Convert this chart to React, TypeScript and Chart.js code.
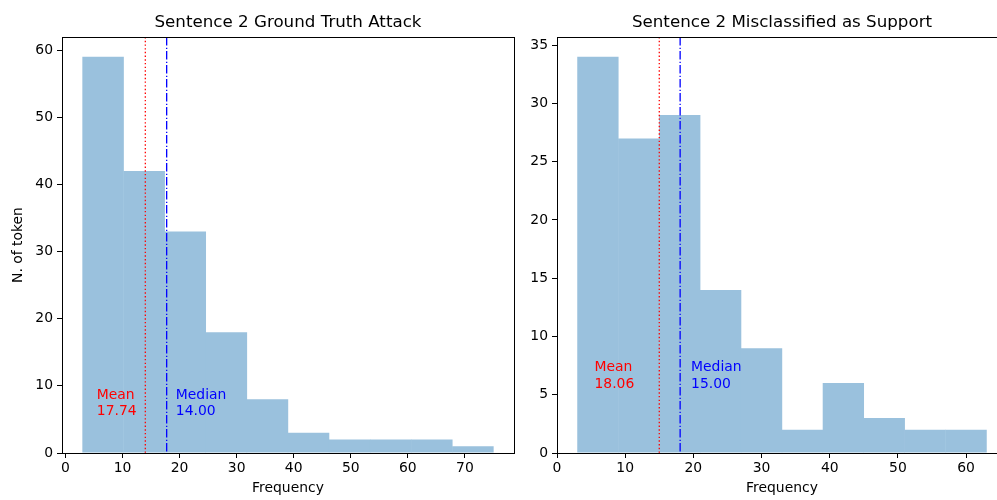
import React, { useEffect, useRef } from 'react';
import { Chart, registerables } from 'chart.js';

Chart.register(...registerables);

// ---------- data ----------
const leftTitle = 'Sentence 2 Ground Truth Attack';
const leftBinEdges = [3, 10.2, 17.4, 24.6, 31.8, 39, 46.2, 53.4, 60.6, 67.8, 75];
const leftCounts = [59, 42, 33, 18, 8, 3, 2, 2, 2, 1];
const leftRedLine = 14;
const leftBlueLine = 17.74;
const leftMeanText = ['Mean', '17.74'];
const leftMedianText = ['Median', '14.00'];
const leftXTicks = [0, 10, 20, 30, 40, 50, 60, 70];
const leftYTicks = [0, 10, 20, 30, 40, 50, 60];

const rightTitle = 'Sentence 2 Misclassified as Support';
const rightBinEdges = [3, 9, 15, 21, 27, 33, 39, 45, 51, 57, 63];
const rightCounts = [34, 27, 29, 14, 9, 2, 6, 3, 2, 2];
const rightRedLine = 15;
const rightBlueLine = 18.06;
const rightMeanText = ['Mean', '18.06'];
const rightMedianText = ['Median', '15.00'];
const rightXTicks = [0, 10, 20, 30, 40, 50, 60];
const rightYTicks = [0, 5, 10, 15, 20, 25, 30, 35];

const xLabel = 'Frequency';
const yLabel = 'N. of token';

// ---------- styling ----------
const FONT = "'DejaVu Sans', sans-serif";
const BAR_COLOR = 'rgb(154,193,221)';
const RED = 'rgb(255,0,0)';
const BLUE = 'rgb(0,0,255)';
const TICK_SIZE = 13.9;

const overlayPlugin = {
  id: 'overlay',
  afterDatasetsDraw(chart: any, _args: any, opts: any) {
    const { ctx, chartArea: a, scales } = chart;
    const x = scales.x;
    const y = scales.y;
    ctx.save();
    ctx.beginPath();
    ctx.rect(a.left, a.top, a.right - a.left, a.bottom - a.top);
    ctx.clip();
    const vline = (val: number, color: string, dash: number[], width: number) => {
      const px = x.getPixelForValue(val);
      ctx.beginPath();
      ctx.setLineDash(dash);
      ctx.strokeStyle = color;
      ctx.lineWidth = width;
      ctx.moveTo(px, a.top);
      ctx.lineTo(px, a.bottom);
      ctx.stroke();
    };
    vline(opts.red, RED, [1.4, 2.3], 1.3);
    vline(opts.blue, BLUE, [8.5, 2.1, 1.3, 2.1], 1.3);
    ctx.setLineDash([]);
    ctx.restore();

    // texts
    ctx.save();
    ctx.font = `${TICK_SIZE}px ${FONT}`;
    ctx.textAlign = 'left';
    ctx.textBaseline = 'alphabetic';
    const drawText = (lines: string[], xv: number, color: string) => {
      ctx.fillStyle = color;
      const px = x.getPixelForValue(xv);
      const base = y.getPixelForValue(opts.textY);
      const n = lines.length;
      lines.forEach((l, i) => {
        ctx.fillText(l, px, base - (n - 1 - i) * 16.5);
      });
    };
    drawText(opts.meanText, opts.meanTextX, RED);
    drawText(opts.medianText, opts.blue + 1.6, BLUE);
    ctx.restore();

    // spines
    ctx.save();
    ctx.strokeStyle = '#000';
    ctx.lineWidth = 1;
    const l = Math.round(a.left) + 0.5;
    const t = Math.round(a.top) + 0.5;
    const r = Math.round(a.right) + 0.5;
    const b = Math.round(a.bottom) + 0.5;
    ctx.strokeRect(l, t, r - l, b - t);
    ctx.restore();
  },
};

type PanelProps = {
  left: number;
  width: number;
  title: string;
  edges: number[];
  counts: number[];
  red: number;
  blue: number;
  meanText: string[];
  medianText: string[];
  xTicks: number[];
  yTicks: number[];
  xMin: number;
  xMax: number;
  yMax: number;
  yAxisWidth: number;
  padRight: number;
  showYLabel: boolean;
};

function Panel(p: PanelProps) {
  const ref = useRef<HTMLCanvasElement | null>(null);
  useEffect(() => {
    if (!ref.current) return;
    const pts = p.counts.map((c, i) => ({ x: (p.edges[i] + p.edges[i + 1]) / 2, y: c }));
    const tickFont = { family: FONT, size: TICK_SIZE };
    const chart = new Chart(ref.current, {
      type: 'bar',
      data: {
        datasets: [
          {
            data: pts,
            backgroundColor: BAR_COLOR,
            borderWidth: 0,
            barPercentage: 1.01,
            categoryPercentage: 1,
          } as any,
        ],
      },
      options: {
        animation: false,
        responsive: false,
        events: [],
        layout: { padding: { top: 12.5, left: 0, right: p.padRight, bottom: 0 } },
        plugins: {
          legend: { display: false },
          tooltip: { enabled: false },
          title: {
            display: true,
            text: p.title,
            fullSize: false,
            color: '#000',
            font: { family: FONT, size: 16.7, weight: 'normal' },
            padding: { top: 0, bottom: 4.5 },
          },
          overlay: {
            red: p.red,
            blue: p.blue,
            meanText: p.meanText,
            medianText: p.medianText,
            meanTextX: 5.5,
            textY: 5.6,
          },
        } as any,
        scales: {
          x: {
            type: 'linear',
            offset: false,
            min: p.xMin,
            max: p.xMax,
            afterBuildTicks: (s: any) => {
              s.ticks = p.xTicks.map((v) => ({ value: v }));
            },
            afterFit: (s: any) => {
              s.height = 47;
            },
            grid: { display: true, offset: false, drawOnChartArea: false, drawTicks: true, tickLength: 5, tickColor: '#000' },
            border: { display: true, color: '#000', width: 1 },
            ticks: {
              autoSkip: false,
              maxRotation: 0,
              padding: 2,
              color: '#000',
              font: tickFont,
              callback: (v: any) => String(v),
            },
            title: {
              display: true,
              text: xLabel,
              color: '#000',
              font: { family: FONT, size: TICK_SIZE },
              padding: { top: 0, bottom: 3 },
            },
          },
          y: {
            type: 'linear',
            min: 0,
            max: p.yMax,
            afterBuildTicks: (s: any) => {
              s.ticks = p.yTicks.map((v) => ({ value: v }));
            },
            afterFit: (s: any) => {
              s.width = p.yAxisWidth;
            },
            grid: { display: true, drawOnChartArea: false, drawTicks: true, tickLength: 5, tickColor: '#000' },
            border: { display: true, color: '#000', width: 1 },
            ticks: {
              autoSkip: false,
              padding: 4,
              color: '#000',
              font: tickFont,
              callback: (v: any) => String(v),
            },
            title: {
              display: p.showYLabel,
              text: yLabel,
              color: '#000',
              font: { family: FONT, size: TICK_SIZE },
              padding: { top: 10, bottom: 0 },
            },
          },
        },
      } as any,
      plugins: [overlayPlugin as any],
    });
    return () => chart.destroy();
  }, []);
  return (
    <canvas
      ref={ref}
      width={p.width}
      height={500}
      style={{ position: 'absolute', left: p.left, top: 0, width: p.width, height: 500, display: 'block' }}
    />
  );
}

export default function App() {
  return (
    <div
      style={{
        position: 'fixed',
        left: 0,
        top: 0,
        width: 997,
        height: 500,
        overflow: 'hidden',
        background: '#fff',
      }}
    >
      <Panel
        left={0}
        width={520}
        title={leftTitle}
        edges={leftBinEdges}
        counts={leftCounts}
        red={leftRedLine}
        blue={leftBlueLine}
        meanText={leftMeanText}
        medianText={leftMedianText}
        xTicks={leftXTicks}
        yTicks={leftYTicks}
        xMin={-0.6}
        xMax={78.6}
        yMax={61.95}
        yAxisWidth={62}
        padRight={6}
        showYLabel={true}
      />
      <Panel
        left={500}
        width={510}
        title={rightTitle}
        edges={rightBinEdges}
        counts={rightCounts}
        red={rightRedLine}
        blue={rightBlueLine}
        meanText={rightMeanText}
        medianText={rightMedianText}
        xTicks={rightXTicks}
        yTicks={rightYTicks}
        xMin={0}
        xMax={66}
        yMax={35.7}
        yAxisWidth={57}
        padRight={3}
        showYLabel={false}
      />
    </div>
  );
}
